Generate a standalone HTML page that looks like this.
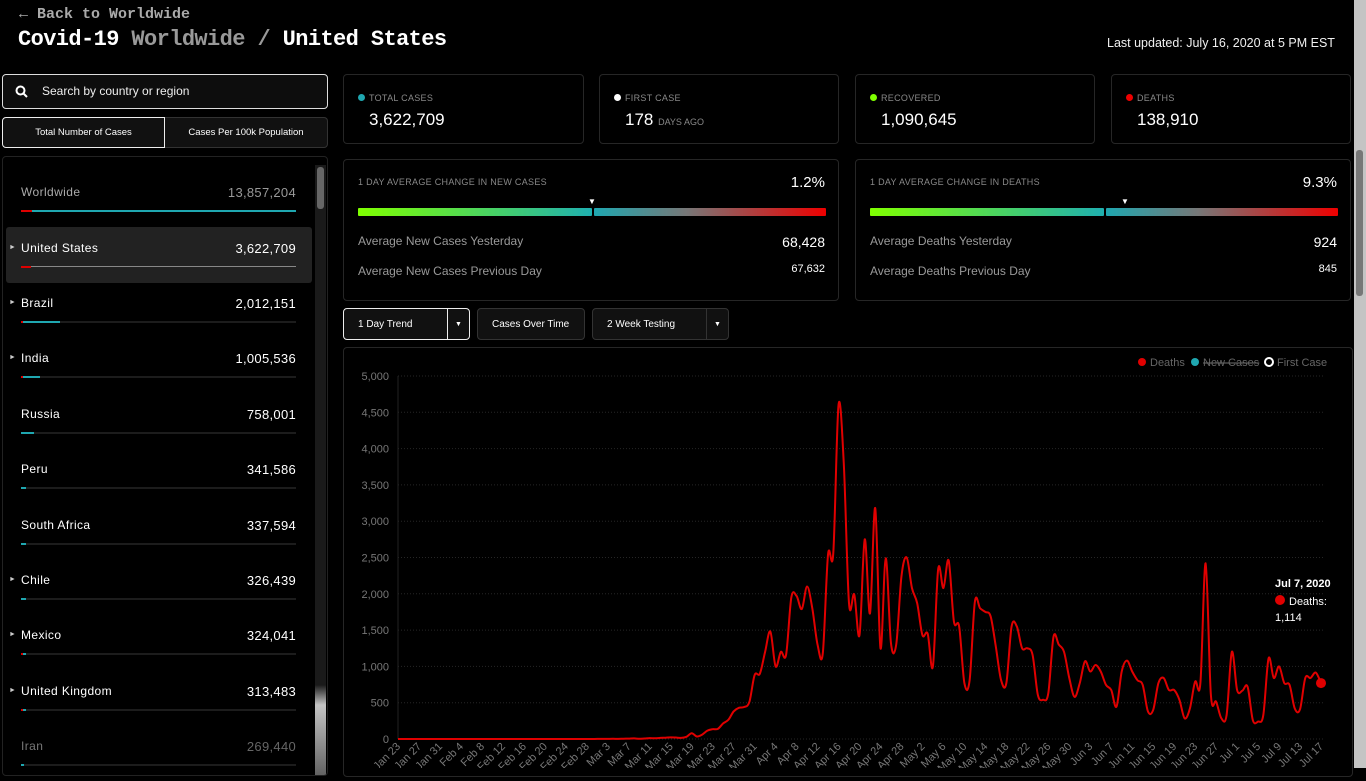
<!DOCTYPE html>
<html><head><meta charset="utf-8"><style>
*{box-sizing:border-box;margin:0;padding:0}
body{width:1366px;height:768px;background:#000;color:#fff;font-family:"Liberation Sans",sans-serif;overflow:hidden;position:relative}
.abs{position:absolute}
.card{position:absolute;border:1px solid #262626;border-radius:4px;background:#000}
.lbl{font-size:9px;color:#888;letter-spacing:.3px}
.dot{display:inline-block;width:7px;height:7px;border-radius:50%;margin-right:4px;vertical-align:0}
.row{position:absolute;left:6px;width:306px;height:56px}
.row .nm{position:absolute;left:15px;top:14px;font-size:12px;letter-spacing:.4px}
.row .vl{position:absolute;right:16px;top:14px;font-size:13px;letter-spacing:.3px}
.row .tri{position:absolute;left:3px;top:17px;font-size:7px;color:#ccc}
.row .bar{position:absolute;left:15px;top:39px;width:275px;height:2px;background:#1c1c1c}
.row .bar i{position:absolute;left:0;top:0;height:2px;background:#1fa7b0}
.row .bar b{position:absolute;left:0;top:0;height:2px;width:2px;background:#d00}
.btn{position:absolute;top:308px;height:32px;border:1px solid #333;border-radius:4px;background:#111;font-size:10px;line-height:31px;padding-left:14px}
.grad{position:absolute;height:8px;border-radius:1px}
</style></head><body>
<div class="abs" style="left:19px;top:6px;font-family:'Liberation Mono',monospace;font-size:15px;color:#aaa;font-weight:bold">← Back to Worldwide</div>
<div class="abs" style="left:18px;top:27px;font-family:'Liberation Mono',monospace;font-size:22px;font-weight:bold;letter-spacing:-.6px">Covid-19 <span style="color:#999">Worldwide /</span> United States</div>
<div class="abs" style="left:1107px;top:36px;font-size:12.5px;color:#f0f0f0">Last updated: July 16, 2020 at 5 PM EST</div>

<div class="abs" style="left:2px;top:74px;width:326px;height:35px;border:1px solid #ddd;border-radius:4px;background:#0d0d0d;font-size:12px;line-height:33px;padding-left:39px;color:#eee">
<svg style="position:absolute;left:12px;top:10px" width="13" height="13"><circle cx="5.5" cy="5.5" r="4" fill="none" stroke="#fff" stroke-width="2"/><line x1="8.5" y1="8.5" x2="12" y2="12" stroke="#fff" stroke-width="2"/></svg>Search by country or region</div>
<div class="abs" style="left:2px;top:117px;width:163px;height:31px;border:1px solid #eee;border-radius:4px 0 0 4px;background:#111;font-size:9.5px;text-align:center;line-height:29px">Total Number of Cases</div>
<div class="abs" style="left:165px;top:117px;width:163px;height:31px;border:1px solid #333;border-left:none;border-radius:0 4px 4px 0;background:#111;font-size:9.5px;text-align:center;line-height:29px">Cases Per 100k Population</div>

<div class="abs" style="left:2px;top:156px;width:326px;height:620px;border:1px solid #222;border-radius:4px;overflow:hidden">
<div class="abs" style="left:312px;top:8px;width:11px;height:620px;background:linear-gradient(#1a1a1a 0,#1a1a1a 520px,#c4c4c4 540px,#555 620px)"><div style="position:absolute;left:2px;top:2px;width:7px;height:42px;background:#666;border-radius:3px"></div></div>
</div>
<div class="row" style="top:171px"><span class="nm" style="color:#aaa">Worldwide</span><span class="vl" style="color:#999">13,857,204</span><div class="bar" style="background:transparent"><b style="width:11px"></b><i style="left:11px;width:264px"></i></div></div>
<div class="row" style="top:227px;background:#222;border-radius:3px"><span class="tri">►</span><span class="nm">United States</span><span class="vl">3,622,709</span><div class="bar" style="background:transparent"><b style="width:10px"></b><i style="left:10px;width:265px;height:1px;background:#888"></i></div></div>
<div class="row" style="top:282px"><span class="tri">►</span><span class="nm">Brazil</span><span class="vl">2,012,151</span><div class="bar"><b></b><i style="left:2px;width:37px"></i></div></div>
<div class="row" style="top:337px"><span class="tri">►</span><span class="nm">India</span><span class="vl">1,005,536</span><div class="bar"><b></b><i style="left:2px;width:17px"></i></div></div>
<div class="row" style="top:393px"><span class="nm">Russia</span><span class="vl">758,001</span><div class="bar"><i style="width:13px"></i></div></div>
<div class="row" style="top:448px"><span class="nm">Peru</span><span class="vl">341,586</span><div class="bar"><i style="width:5px"></i></div></div>
<div class="row" style="top:504px"><span class="nm">South Africa</span><span class="vl">337,594</span><div class="bar"><i style="width:5px"></i></div></div>
<div class="row" style="top:559px"><span class="tri">►</span><span class="nm">Chile</span><span class="vl">326,439</span><div class="bar"><i style="width:5px"></i></div></div>
<div class="row" style="top:614px"><span class="tri">►</span><span class="nm">Mexico</span><span class="vl">324,041</span><div class="bar"><b></b><i style="left:2px;width:3px"></i></div></div>
<div class="row" style="top:670px"><span class="tri">►</span><span class="nm">United Kingdom</span><span class="vl">313,483</span><div class="bar"><b></b><i style="left:2px;width:3px"></i></div></div>
<div class="row" style="top:725px"><span class="nm" style="color:#777">Iran</span><span class="vl" style="color:#666">269,440</span><div class="bar"><i style="width:3px"></i></div></div>

<div class="card" style="left:343px;top:74px;width:241px;height:70px"><div class="lbl abs" style="left:14px;top:18px"><span class="dot" style="background:#1fa7b0"></span>TOTAL CASES</div><div class="abs" style="left:25px;top:35px;font-size:17px">3,622,709</div></div>
<div class="card" style="left:599px;top:74px;width:240px;height:70px"><div class="lbl abs" style="left:14px;top:18px"><span class="dot" style="background:#fff"></span>FIRST CASE</div><div class="abs" style="left:25px;top:35px;font-size:17px">178 <span style="font-size:9px;color:#888">DAYS AGO</span></div></div>
<div class="card" style="left:855px;top:74px;width:240px;height:70px"><div class="lbl abs" style="left:14px;top:18px"><span class="dot" style="background:#7fff00"></span>RECOVERED</div><div class="abs" style="left:25px;top:35px;font-size:17px">1,090,645</div></div>
<div class="card" style="left:1111px;top:74px;width:240px;height:70px"><div class="lbl abs" style="left:14px;top:18px"><span class="dot" style="background:#e00"></span>DEATHS</div><div class="abs" style="left:25px;top:35px;font-size:17px">138,910</div></div>

<div class="card" style="left:343px;top:159px;width:496px;height:142px">
<div class="lbl abs" style="left:14px;top:17px">1 DAY AVERAGE CHANGE IN NEW CASES</div>
<div class="abs" style="right:13px;top:14px;font-size:15px">1.2%</div>
<div class="abs" style="left:244px;top:37px;font-size:8px">▼</div>
<div class="grad" style="left:14px;top:48px;width:234px;background:linear-gradient(90deg,#7fff00,#1fb0b0)"></div>
<div class="grad" style="left:250px;top:48px;width:232px;background:linear-gradient(90deg,#1fa7b0,#777 40%,#e00)"></div>
<div class="abs" style="left:14px;top:74px;font-size:12px;color:#999">Average New Cases Yesterday</div>
<div class="abs" style="right:13px;top:74px;font-size:14px">68,428</div>
<div class="abs" style="left:14px;top:104px;font-size:12px;color:#999">Average New Cases Previous Day</div>
<div class="abs" style="right:13px;top:103px;font-size:11px">67,632</div>
</div>
<div class="card" style="left:855px;top:159px;width:496px;height:142px">
<div class="lbl abs" style="left:14px;top:17px">1 DAY AVERAGE CHANGE IN DEATHS</div>
<div class="abs" style="right:13px;top:14px;font-size:15px">9.3%</div>
<div class="abs" style="left:265px;top:37px;font-size:8px">▼</div>
<div class="grad" style="left:14px;top:48px;width:234px;background:linear-gradient(90deg,#7fff00,#1fb0b0)"></div>
<div class="grad" style="left:250px;top:48px;width:232px;background:linear-gradient(90deg,#1fa7b0,#777 40%,#e00)"></div>
<div class="abs" style="left:14px;top:74px;font-size:12px;color:#999">Average Deaths Yesterday</div>
<div class="abs" style="right:13px;top:74px;font-size:14px">924</div>
<div class="abs" style="left:14px;top:104px;font-size:12px;color:#999">Average Deaths Previous Day</div>
<div class="abs" style="right:13px;top:103px;font-size:11px">845</div>
</div>

<div class="btn" style="left:343px;width:127px;border-color:#eee">1 Day Trend<span style="position:absolute;left:103px;top:0;width:1px;height:30px;background:#eee"></span><span style="position:absolute;left:111px;font-size:7px">▼</span></div>
<div class="btn" style="left:477px;width:108px">Cases Over Time</div>
<div class="btn" style="left:592px;width:137px">2 Week Testing<span style="position:absolute;left:113px;top:0;width:1px;height:30px;background:#333"></span><span style="position:absolute;left:121px;font-size:7px">▼</span></div>

<div class="card" style="left:343px;top:347px;width:1010px;height:430px"></div>
<div class="abs" style="left:1354px;top:0;width:12px;height:768px;background:#c4c4c4"><div style="position:absolute;left:2px;top:150px;width:7px;height:146px;background:#777;border-radius:3px"></div></div>

<svg id="chart" class="abs" style="left:0;top:0" width="1366" height="768"></svg>
<script>
const deathValues=[0,0,0,0,0,0,0,0,0,0,0,0,0,0,0,0,0,0,0,0,0,0,0,0,0,0,0,0,0,0,0,0,0,0,0,0,0,0,
1,1,2,3,2,4,5,8,3,7,12,10,15,18,23,20,15,30,80,35,60,115,135,140,215,265,380,430,440,510,880,900,1200,1480,1000,1200,1160,1950,1970,1790,2100,1800,1300,1180,2540,2560,4600,3800,1870,1990,1430,2750,1730,3180,1250,2490,1320,1300,2240,2500,2080,1870,1430,1450,1000,2340,2080,2460,1620,1550,770,810,1890,1800,1750,1690,1270,810,770,1550,1550,1250,1250,1160,610,540,630,1410,1300,1200,840,580,770,1070,930,1020,930,745,675,445,930,1080,930,810,745,380,400,770,840,675,675,540,285,420,790,770,2420,610,515,285,330,1200,675,665,720,260,240,330,1110,840,1000,770,745,420,410,840,840,915,770];
const yTicks=[0,500,1000,1500,2000,2500,3000,3500,4000,4500,5000];
const xTickLabels=["Jan 23","Jan 27","Jan 31","Feb 4","Feb 8","Feb 12","Feb 16","Feb 20","Feb 24","Feb 28","Mar 3","Mar 7","Mar 11","Mar 15","Mar 19","Mar 23","Mar 27","Mar 31","Apr 4","Apr 8","Apr 12","Apr 16","Apr 20","Apr 24","Apr 28","May 2","May 6","May 10","May 14","May 18","May 22","May 26","May 30","Jun 3","Jun 7","Jun 11","Jun 15","Jun 19","Jun 23","Jun 27","Jul 1","Jul 5","Jul 9","Jul 13","Jul 17"];
const NS="http://www.w3.org/2000/svg";
const svg=document.getElementById('chart');
const X0=398,X1=1321,Y0=739,Y1=376,NDAYS=176,YMAX=5000;
function xs(d){return X0+(X1-X0)*d/NDAYS;}
function ys(v){return Y0-(Y0-Y1)*v/YMAX;}
function mk(t,a){const e=document.createElementNS(NS,t);for(const k in a)e.setAttribute(k,a[k]);svg.appendChild(e);return e;}
yTicks.forEach(v=>{
 const g=mk('line',{x1:X0,x2:1325,y1:ys(v),y2:ys(v),stroke:'#262626','stroke-dasharray':'1,2'});
 
 
 const t=mk('text',{x:389,y:ys(v)+4,'text-anchor':'end','font-size':'11','fill':'#777','font-family':'Liberation Sans'});
 t.textContent=v.toLocaleString('en-US');
 
 
});
const ax=mk('line',{x1:X0,x2:X0,y1:Y1,y2:Y0,stroke:'#222'});


xTickLabels.forEach((s,i)=>{
 const x=xs(i*4);
 const t=mk('text',{x:0,y:0,'text-anchor':'end','font-size':'11','fill':'#777','font-family':'Liberation Sans',transform:`translate(${x+3},${Y0+8}) rotate(-45)`});
 t.textContent=s;
 
 
});
const pts=deathValues.map((v,i)=>[xs(i),ys(v)]);
let d='M'+pts[0][0]+','+pts[0][1];
for(let i=0;i<pts.length-1;i++){
 const p0=pts[Math.max(0,i-1)],p1=pts[i],p2=pts[i+1],p3=pts[Math.min(pts.length-1,i+2)];
 const k=1/6;
 d+=` C${p1[0]+(p2[0]-p0[0])*k},${p1[1]+(p2[1]-p0[1])*k} ${p2[0]-(p3[0]-p1[0])*k},${p2[1]-(p3[1]-p1[1])*k} ${p2[0]},${p2[1]}`;
}
const line=mk('path',{d:d,fill:'none',stroke:'#e00000','stroke-width':'2'});


const last=pts[pts.length-1];
const dot=mk('circle',{cx:last[0],cy:last[1],r:5,fill:'#e00000'});


const leg=[['Deaths','#e00000',1142],['New Cases','#1fa7b0',1195],['First Case','none',1269]];
leg.forEach(([s,c,x])=>{
 const cc=mk('circle',{cx:x,cy:362,r:4,fill:c,stroke:c==='none'?'#fff':'none','stroke-width':2});
 
 
 const t=mk('text',{x:x+8,y:366,'font-size':'11','fill':'#666','font-family':'Liberation Sans','text-decoration':s==='New Cases'?'line-through':'none'});
 t.textContent=s;
 
 
});
const tt1=mk('text',{x:1275,y:587,'font-size':'11','font-weight':'bold',fill:'#fff','font-family':'Liberation Sans'});tt1.textContent='Jul 7, 2020';


const tc=mk('circle',{cx:1280,cy:600,r:5,fill:'#e00000'});


const tt2=mk('text',{x:1289,y:605,'font-size':'11',fill:'#fff','font-family':'Liberation Sans'});tt2.textContent='Deaths:';


const tt3=mk('text',{x:1275,y:621,'font-size':'11',fill:'#fff','font-family':'Liberation Sans'});tt3.textContent='1,114';


</script>
</body></html>
